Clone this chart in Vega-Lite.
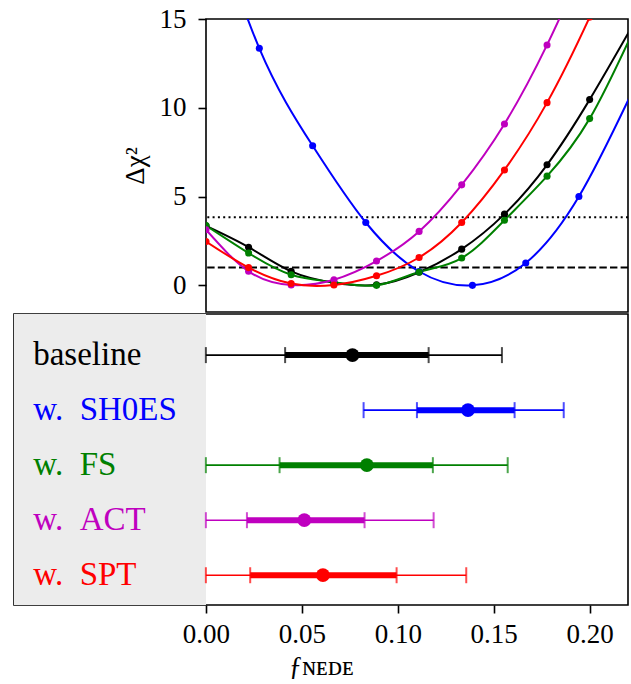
{
  "$schema": "https://vega.github.io/schema/vega-lite/v6.json",
  "padding": {"left": 13, "top": 4, "right": 2, "bottom": 0},
  "background": "white",
  "config": {
    "font": "Liberation Serif",
    "view": {"stroke": "#000000", "strokeWidth": 1.6},
    "axis": {
      "labelFont": "Liberation Serif",
      "titleFont": "Liberation Serif",
      "labelColor": "#000000",
      "titleColor": "#000000",
      "tickColor": "#000000",
      "tickWidth": 1.6,
      "tickSize": 8,
      "labelFontSize": 27,
      "titleFontSize": 27,
      "titleFontWeight": "normal",
      "grid": false,
      "domain": false
    }
  },
  "datasets": {
    "curves": [
      {"set": "baseline", "f": 0.0, "dchi2": 3.35},
      {"set": "baseline", "f": 0.0222, "dchi2": 2.15},
      {"set": "baseline", "f": 0.0444, "dchi2": 0.79},
      {"set": "baseline", "f": 0.0667, "dchi2": 0.15},
      {"set": "baseline", "f": 0.0889, "dchi2": 0.03},
      {"set": "baseline", "f": 0.1111, "dchi2": 0.74},
      {"set": "baseline", "f": 0.1333, "dchi2": 2.04},
      {"set": "baseline", "f": 0.1556, "dchi2": 4.01},
      {"set": "baseline", "f": 0.1778, "dchi2": 6.79},
      {"set": "baseline", "f": 0.2, "dchi2": 10.46},
      {"set": "baseline", "f": 0.2222, "dchi2": 14.6},
      {"set": "SH0ES", "f": 0.0, "dchi2": 22.0},
      {"set": "SH0ES", "f": 0.0278, "dchi2": 13.35},
      {"set": "SH0ES", "f": 0.0556, "dchi2": 7.86},
      {"set": "SH0ES", "f": 0.0833, "dchi2": 3.54},
      {"set": "SH0ES", "f": 0.1111, "dchi2": 0.78},
      {"set": "SH0ES", "f": 0.1389, "dchi2": 0.0},
      {"set": "SH0ES", "f": 0.1667, "dchi2": 1.26},
      {"set": "SH0ES", "f": 0.1944, "dchi2": 5.0},
      {"set": "SH0ES", "f": 0.2222, "dchi2": 10.9},
      {"set": "FS", "f": 0.0, "dchi2": 3.37},
      {"set": "FS", "f": 0.0222, "dchi2": 1.82},
      {"set": "FS", "f": 0.0444, "dchi2": 0.6},
      {"set": "FS", "f": 0.0667, "dchi2": 0.18},
      {"set": "FS", "f": 0.0889, "dchi2": 0.0},
      {"set": "FS", "f": 0.1111, "dchi2": 0.75},
      {"set": "FS", "f": 0.1333, "dchi2": 1.54},
      {"set": "FS", "f": 0.1556, "dchi2": 3.67},
      {"set": "FS", "f": 0.1778, "dchi2": 6.15},
      {"set": "FS", "f": 0.2, "dchi2": 9.39},
      {"set": "FS", "f": 0.2222, "dchi2": 14.2},
      {"set": "ACT", "f": 0.0, "dchi2": 3.13},
      {"set": "ACT", "f": 0.0222, "dchi2": 0.79},
      {"set": "ACT", "f": 0.0444, "dchi2": 0.02},
      {"set": "ACT", "f": 0.0667, "dchi2": 0.32},
      {"set": "ACT", "f": 0.0889, "dchi2": 1.37},
      {"set": "ACT", "f": 0.1111, "dchi2": 3.04},
      {"set": "ACT", "f": 0.1333, "dchi2": 5.66},
      {"set": "ACT", "f": 0.1556, "dchi2": 9.09},
      {"set": "ACT", "f": 0.1778, "dchi2": 13.54},
      {"set": "ACT", "f": 0.2, "dchi2": 18.8},
      {"set": "SPT", "f": 0.0, "dchi2": 2.47},
      {"set": "SPT", "f": 0.0222, "dchi2": 1.0},
      {"set": "SPT", "f": 0.0444, "dchi2": 0.1},
      {"set": "SPT", "f": 0.0667, "dchi2": 0.02},
      {"set": "SPT", "f": 0.0889, "dchi2": 0.54},
      {"set": "SPT", "f": 0.1111, "dchi2": 1.57},
      {"set": "SPT", "f": 0.1333, "dchi2": 3.54},
      {"set": "SPT", "f": 0.1556, "dchi2": 6.5},
      {"set": "SPT", "f": 0.1778, "dchi2": 10.29},
      {"set": "SPT", "f": 0.2, "dchi2": 15.1},
      {"set": "SPT", "f": 0.2222, "dchi2": 20.5}
    ],
    "intervals": [
      {"set": "baseline", "label": "baseline", "lo2": 0.0, "lo1": 0.0413, "best": 0.0764, "hi1": 0.1161, "hi2": 0.1543},
      {"set": "SH0ES", "label": "w.\u2002SH0ES", "lo2": 0.0822, "lo1": 0.110, "best": 0.1366, "hi1": 0.1609, "hi2": 0.1865},
      {"set": "FS", "label": "w.\u2002FS", "lo2": 0.0, "lo1": 0.0384, "best": 0.0839, "hi1": 0.1183, "hi2": 0.1573},
      {"set": "ACT", "label": "w.\u2002ACT", "lo2": 0.0, "lo1": 0.0214, "best": 0.0513, "hi1": 0.0827, "hi2": 0.1187},
      {"set": "SPT", "label": "w.\u2002SPT", "lo2": 0.0, "lo1": 0.0231, "best": 0.061, "hi1": 0.0994, "hi2": 0.1357}
    ]
  },
  "spacing": 0,
  "vconcat": [
    {
      "spacing": 0,
      "bounds": "flush",
      "hconcat": [
        {
          "width": 192,
          "height": 293,
          "view": {"stroke": null},
          "data": {"values": [{}]},
          "mark": {"type": "text"},
          "encoding": {"text": {"value": ""}}
        },
        {
          "width": 422,
          "height": 293,
          "layer": [
            {
              "data": {"values": [{}]},
              "mark": {"type": "rule", "color": "#000000", "strokeWidth": 2, "strokeDash": [2, 3.3]},
              "encoding": {"y": {"datum": 3.84, "type": "quantitative", "scale": {"domain": [-1.5, 15], "nice": false, "zero": false}}}
            },
            {
              "data": {"values": [{}]},
              "mark": {"type": "rule", "color": "#000000", "strokeWidth": 2, "strokeDash": [7.4, 3.2]},
              "encoding": {"y": {"datum": 1, "type": "quantitative"}}
            },
            {
              "data": {"name": "curves"},
              "mark": {"type": "line", "interpolate": "natural", "clip": true, "strokeWidth": 2},
              "encoding": {
                "x": {"field": "f", "type": "quantitative", "scale": {"domain": [0, 0.22], "nice": false, "zero": false}, "axis": null},
                "y": {"field": "dchi2", "type": "quantitative"},
                "color": {"field": "set", "type": "nominal", "legend": null,
                  "scale": {"domain": ["baseline", "SH0ES", "FS", "ACT", "SPT"], "range": ["#000000", "#0000ff", "#008000", "#bf00bf", "#ff0000"]}}
              }
            },
            {
              "data": {"name": "curves"},
              "mark": {"type": "point", "filled": true, "opacity": 1, "size": 50, "clip": true},
              "encoding": {
                "x": {"field": "f", "type": "quantitative"},
                "y": {"field": "dchi2", "type": "quantitative",
                  "axis": {"values": [0, 5, 10, 15], "title": "Δχ²", "labelPadding": 12, "titlePadding": 10}},
                "color": {"field": "set", "type": "nominal", "legend": null}
              }
            }
          ]
        }
      ]
    },
    {
      "width": 614,
      "height": 291,
      "data": {"name": "intervals"},
      "encoding": {
        "y": {"field": "set", "type": "nominal", "axis": null,
          "scale": {"type": "point", "domain": ["baseline", "SH0ES", "FS", "ACT", "SPT"], "padding": 0.644, "align": 0.58}},
        "color": {"field": "set", "type": "nominal", "legend": null,
          "scale": {"domain": ["baseline", "SH0ES", "FS", "ACT", "SPT"], "range": ["#000000", "#0000ff", "#008000", "#bf00bf", "#ff0000"]}}
      },
      "layer": [
        {
          "mark": {"type": "rect", "color": "#ececec"},
          "encoding": {
            "x": {"datum": -0.1, "type": "quantitative",
              "scale": {"domain": [-0.1, 0.22], "nice": false, "zero": false},
              "axis": {"values": [0, 0.05, 0.1, 0.15, 0.2], "format": ".2f", "labelPadding": 8, "title": "ƒɴᴇᴅᴇ", "titlePadding": 6}},
            "x2": {"datum": 0},
            "y": null,
            "color": null
          }
        },
        {
          "mark": {"type": "rule", "strokeWidth": 1.6},
          "encoding": {"x": {"field": "lo2", "type": "quantitative"}, "x2": {"field": "hi2"}}
        },
        {
          "mark": {"type": "rule", "strokeWidth": 6},
          "encoding": {"x": {"field": "lo1", "type": "quantitative"}, "x2": {"field": "hi1"}}
        },
        {
          "transform": [{"fold": ["lo2", "lo1", "hi1", "hi2"], "as": ["which", "edge"]}],
          "mark": {"type": "tick", "orient": "vertical", "size": 16, "thickness": 2},
          "encoding": {"x": {"field": "edge", "type": "quantitative"}}
        },
        {
          "mark": {"type": "point", "filled": true, "opacity": 1, "size": 190},
          "encoding": {"x": {"field": "best", "type": "quantitative"}}
        },
        {
          "mark": {"type": "text", "align": "left", "baseline": "middle", "fontSize": 33},
          "encoding": {"x": {"datum": -0.09, "type": "quantitative"}, "text": {"field": "label"}}
        }
      ]
    }
  ]
}
